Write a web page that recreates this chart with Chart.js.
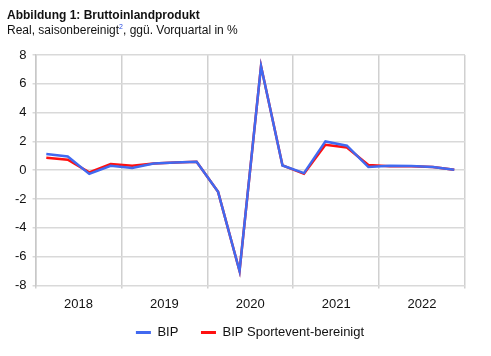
<!DOCTYPE html>
<html><head><meta charset="utf-8">
<script src="https://cdn.jsdelivr.net/npm/chart.js@4/dist/chart.umd.min.js"></script>
<style>
html,body{margin:0;padding:0;background:#fff;}
#wrap{position:relative;width:491px;height:356px;font-family:"Liberation Sans",Arial,sans-serif;}
#t1{position:absolute;left:7px;top:8px;font-size:12px;font-weight:bold;color:#111;}
#t2{position:absolute;left:7px;top:23px;font-size:12px;color:#111;}
#t2 sup{color:#2a4de0;font-size:7px;}
canvas{position:absolute;left:0;top:0;}
</style></head><body>
<div id="wrap">
<canvas id="c" width="491" height="356"></canvas>
<div id="t1">Abbildung 1: Bruttoinlandprodukt</div>
<div id="t2">Real, saisonbereinigt<sup>2</sup>, ggü. Vorquartal in %</div>
</div>
<script>
const years = ['2018','2019','2020','2021','2022'];
const bip = [1.12,0.95,-0.26,0.31,0.15,0.47,0.54,0.59,-1.5,-7.0,7.23,0.33,-0.2,2.0,1.7,0.22,0.31,0.30,0.22,0.03];
const bipSport = [0.87,0.73,-0.15,0.43,0.31,0.47,0.54,0.59,-1.5,-7.0,7.23,0.33,-0.25,1.76,1.58,0.36,0.27,0.27,0.22,0.03];
const yTicks = [-8,-6,-4,-2,0,2,4,6,8];

const toPts = arr => arr.map((v,i)=>({x:i+0.5,y:v}));
const legendShift = {id:'legendShift',afterLayout(chart){const lg=chart.legend; if(lg){lg.left+=13;lg.right+=13;}}};
new Chart(document.getElementById('c'),{
  type:'line',
  data:{datasets:[
    {label:'BIP',data:toPts(bip),borderColor:'#4169f0',backgroundColor:'#4169f0',borderWidth:2.5,pointRadius:0,tension:0},
    {label:'BIP Sportevent-bereinigt',data:toPts(bipSport),borderColor:'#ff1010',backgroundColor:'#ff1010',borderWidth:2.5,pointRadius:0,tension:0}
  ]},
  plugins:[legendShift],
  options:{
    responsive:false,animation:false,
    layout:{padding:{top:55,right:26,left:9,bottom:7}},
    plugins:{
      legend:{position:'bottom',labels:{boxWidth:15,boxHeight:3,padding:6,color:'#111',font:{family:'Liberation Sans',size:13},
        generateLabels:ch=>Chart.defaults.plugins.legend.labels.generateLabels(ch).map((l,i)=>Object.assign(l,{lineWidth:0,text:i===0?l.text+'\u2003 ':l.text}))}},
      tooltip:{enabled:false}
    },
    scales:{
      x:{type:'linear',min:0,max:20,
        ticks:{stepSize:2,autoSkip:false,maxRotation:0,padding:8,color:'#111',font:{family:'Liberation Sans',size:13},
          callback:v=> (v%4===2)? years[(v-2)/4] : ''},
        grid:{color:ctx=> (ctx.tick && ctx.tick.value%4===0)?'#d0d0d0':'rgba(0,0,0,0)',lineWidth:1.5,tickLength:3},
        border:{display:false}
      },
      y:{min:-8,max:8,
        afterBuildTicks:a=>{a.ticks=yTicks.map(v=>({value:v}));},
        ticks:{color:'#111',font:{family:'Liberation Sans',size:13},padding:6},
        grid:{color:'#d9d9d9',lineWidth:1.5,tickLength:3},
        border:{color:'#c8c8c8',width:1.5}
      }
    }
  }
});
</script>
</body></html>
